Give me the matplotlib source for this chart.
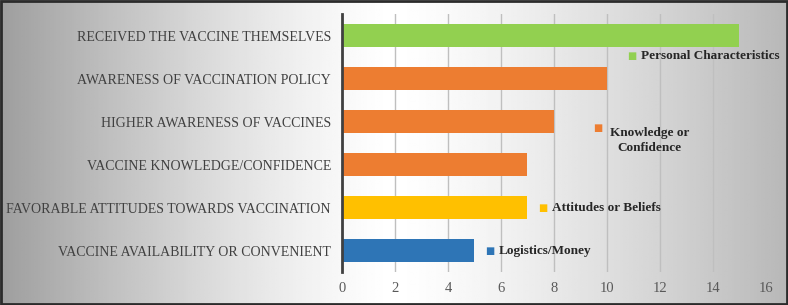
import numpy as np
import matplotlib.pyplot as plt

# data (bottom to top)
categories = ['VACCINE AVAILABILITY OR CONVENIENT',
              'FAVORABLE ATTITUDES TOWARDS VACCINATION',
              'VACCINE KNOWLEDGE/CONFIDENCE',
              'HIGHER AWARENESS OF VACCINES',
              'AWARENESS OF VACCINATION POLICY',
              'RECEIVED THE VACCINE THEMSELVES']
values = [5, 7, 7, 8, 10, 15]
groups = ['Logistics/Money', 'Attitudes or Beliefs', 'Knowledge or\nConfidence',
          'Knowledge or\nConfidence', 'Knowledge or\nConfidence', 'Personal Characteristics']
group_colors = {'Logistics/Money': '#2e75b6',
                'Attitudes or Beliefs': '#ffc000',
                'Knowledge or\nConfidence': '#ed7d31',
                'Personal Characteristics': '#92d050'}
xticks = [0, 2, 4, 6, 8, 10, 12, 14, 16]

plt.rcParams['font.family'] = ['Liberation Serif', 'DejaVu Serif']

fig = plt.figure(figsize=(7.88, 3.05), dpi=100)

# background gradient
bg = fig.add_axes([0, 0, 1, 1], zorder=-10)
xs = np.linspace(0, 1, 400)
shade = 1 - 0.38 * np.clip(np.abs(xs - 0.5) / 0.5, 0, 1) ** 1.3
shade[xs > 0.5] = 1 - 0.28 * np.clip((xs[xs > 0.5] - 0.5) / 0.5, 0, 1) ** 1.3
grad = np.tile(shade, (50, 1))
bg.imshow(grad, cmap='gray', vmin=0, vmax=1, aspect='auto', extent=[0, 1, 0, 1])
bg.set_xlim(0, 1)
bg.set_ylim(0, 1)
bg.axis('off')
fig.patches.append(plt.Rectangle((0.001, 0.002), 0.998, 0.995, transform=fig.transFigure,
                                 fill=False, edgecolor='#2b2b2b', linewidth=2))

ax = fig.add_axes([0.434, 0.108, 0.538, 0.846])
ax.patch.set_alpha(0)
y = np.arange(len(categories))
colors = [group_colors[g] for g in groups]
ax.barh(y, values, height=0.53, color=colors, zorder=3)

ax.set_xlim(0, 16)
ax.set_ylim(-0.5, 5.5)
ax.set_xticks(xticks)
ax.set_xticklabels([str(t) for t in xticks], color='#595959', fontsize=10.5)
ax.set_yticks(y)
ax.set_yticklabels(categories, color='#404040', fontsize=10)
ax.tick_params(axis='both', length=0)
ax.tick_params(axis='y', pad=8)
ax.tick_params(axis='x', pad=7)
ax.grid(axis='x', color='#bfbfbf', linewidth=1, zorder=0)
for s in ['top', 'right', 'bottom']:
    ax.spines[s].set_visible(False)
ax.spines['left'].set_color('#404040')
ax.spines['left'].set_linewidth(2)
ax.spines['left'].set_zorder(4)

# group labels
label_pos = {'Personal Characteristics': (10.94, 4.52, 'left'),
             'Knowledge or\nConfidence': (9.66, 2.86, 'center'),
             'Attitudes or Beliefs': (7.58, 1.0, 'left'),
             'Logistics/Money': (5.58, 0.0, 'left')}
for g, (gx, gy, al) in label_pos.items():
    ax.text(gx, gy, '■', color=group_colors[g], fontsize=7, va='center', ha='center',
            family='DejaVu Sans', zorder=5)
    if al == 'center':
        ax.text(gx + 1.95, gy - 0.3, g, fontsize=9.5, fontweight='bold', color='#262626',
                ha='center', va='center', linespacing=1.25, zorder=5)
    else:
        ax.text(gx + 0.35, gy, g, fontsize=9.5, fontweight='bold', color='#262626',
                ha='left', va='center', zorder=5)

fig.savefig('out.png', dpi=100)
